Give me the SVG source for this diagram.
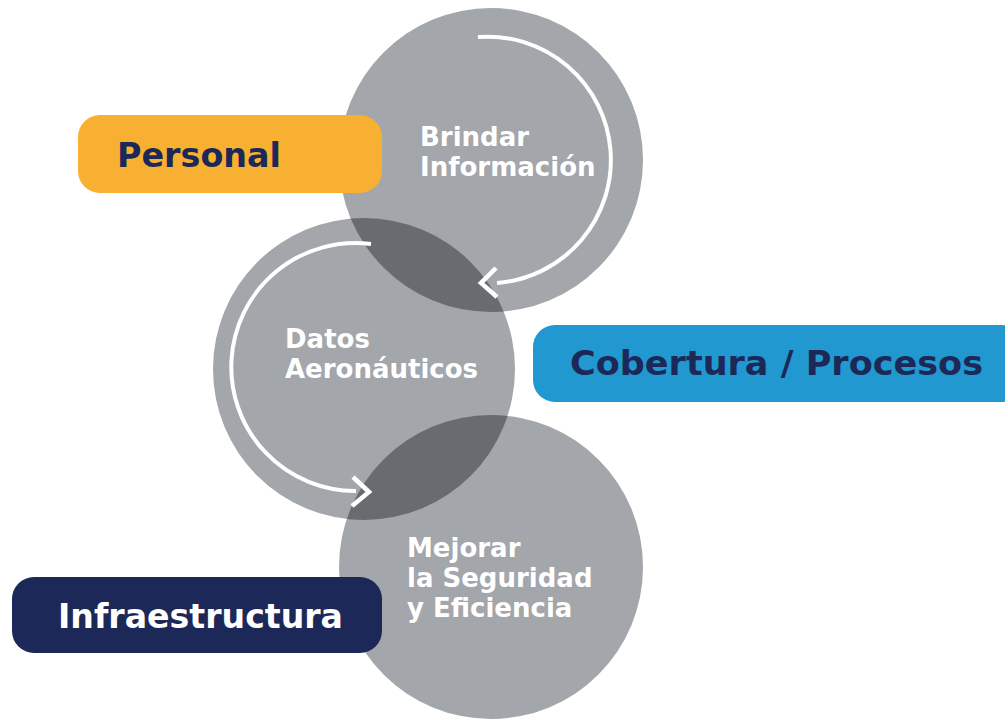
<svg xmlns="http://www.w3.org/2000/svg" width="1005" height="719" viewBox="0 0 1005 719">
<style>
.circ{fill:#a3a6aa}
.lens{fill:#686c70}
.arc{fill:none;stroke:#ffffff;stroke-width:4;stroke-linecap:butt}
.chev{fill:none;stroke:#ffffff;stroke-width:4.5;stroke-linecap:butt;stroke-linejoin:miter}
.ct{font-family:"DejaVu Sans","Liberation Sans",sans-serif;font-weight:bold;font-size:26px;fill:#ffffff}
.bt{font-family:"DejaVu Sans","Liberation Sans",sans-serif;font-weight:bold;font-size:34px}
</style>
<defs>
<clipPath id="clipTop"><circle cx="491" cy="160" r="152"/></clipPath>
<clipPath id="clipBot"><circle cx="491" cy="567" r="152"/></clipPath>
</defs>
<rect width="1005" height="719" fill="#ffffff"/>
<g id="circle-brindar"><circle class="circ" cx="491" cy="160" r="152"/></g>
<g id="circle-datos"><circle class="circ" cx="364" cy="369" r="151"/></g>
<g id="circle-mejorar"><circle class="circ" cx="491" cy="567" r="152"/></g>
<g id="overlaps">
<circle class="lens" cx="364" cy="369" r="151" clip-path="url(#clipTop)"/>
<circle class="lens" cx="364" cy="369" r="151" clip-path="url(#clipBot)"/>
</g>
<g id="connectors">
<path class="arc" d="M 478 37 A 123 123 0 1 1 497 283"/>
<polyline class="chev" points="496,268 481,283 497,297"/>
<path class="arc" d="M 371 244 A 124 124 0 1 0 356 491"/>
<polyline class="chev" points="353,477 369,492 352,506"/>
</g>
<g id="label-brindar">
<text class="ct" x="420" y="146">Brindar</text>
<text class="ct" x="420" y="176">Información</text>
</g>
<g id="label-datos">
<text class="ct" x="285" y="348">Datos</text>
<text class="ct" x="285" y="378">Aeronáuticos</text>
</g>
<g id="label-mejorar">
<text class="ct" x="407" y="557">Mejorar</text>
<text class="ct" x="407" y="587">la Seguridad</text>
<text class="ct" x="407" y="617">y Eficiencia</text>
</g>
<g id="node-personal">
<rect x="78" y="115" width="304" height="78" rx="22" fill="#f7b031"/>
<text class="bt" x="117" y="167" fill="#1c2857" textLength="164" lengthAdjust="spacingAndGlyphs">Personal</text>
</g>
<g id="node-cobertura">
<rect x="533" y="325" width="490" height="77" rx="22" fill="#2198cf"/>
<text class="bt" x="570" y="375" fill="#1c2857" textLength="413" lengthAdjust="spacingAndGlyphs">Cobertura / Procesos</text>
</g>
<g id="node-infraestructura">
<rect x="12" y="577" width="370" height="76" rx="22" fill="#1c2857"/>
<text class="bt" x="58" y="628" fill="#ffffff" textLength="285" lengthAdjust="spacingAndGlyphs">Infraestructura</text>
</g>
</svg>
